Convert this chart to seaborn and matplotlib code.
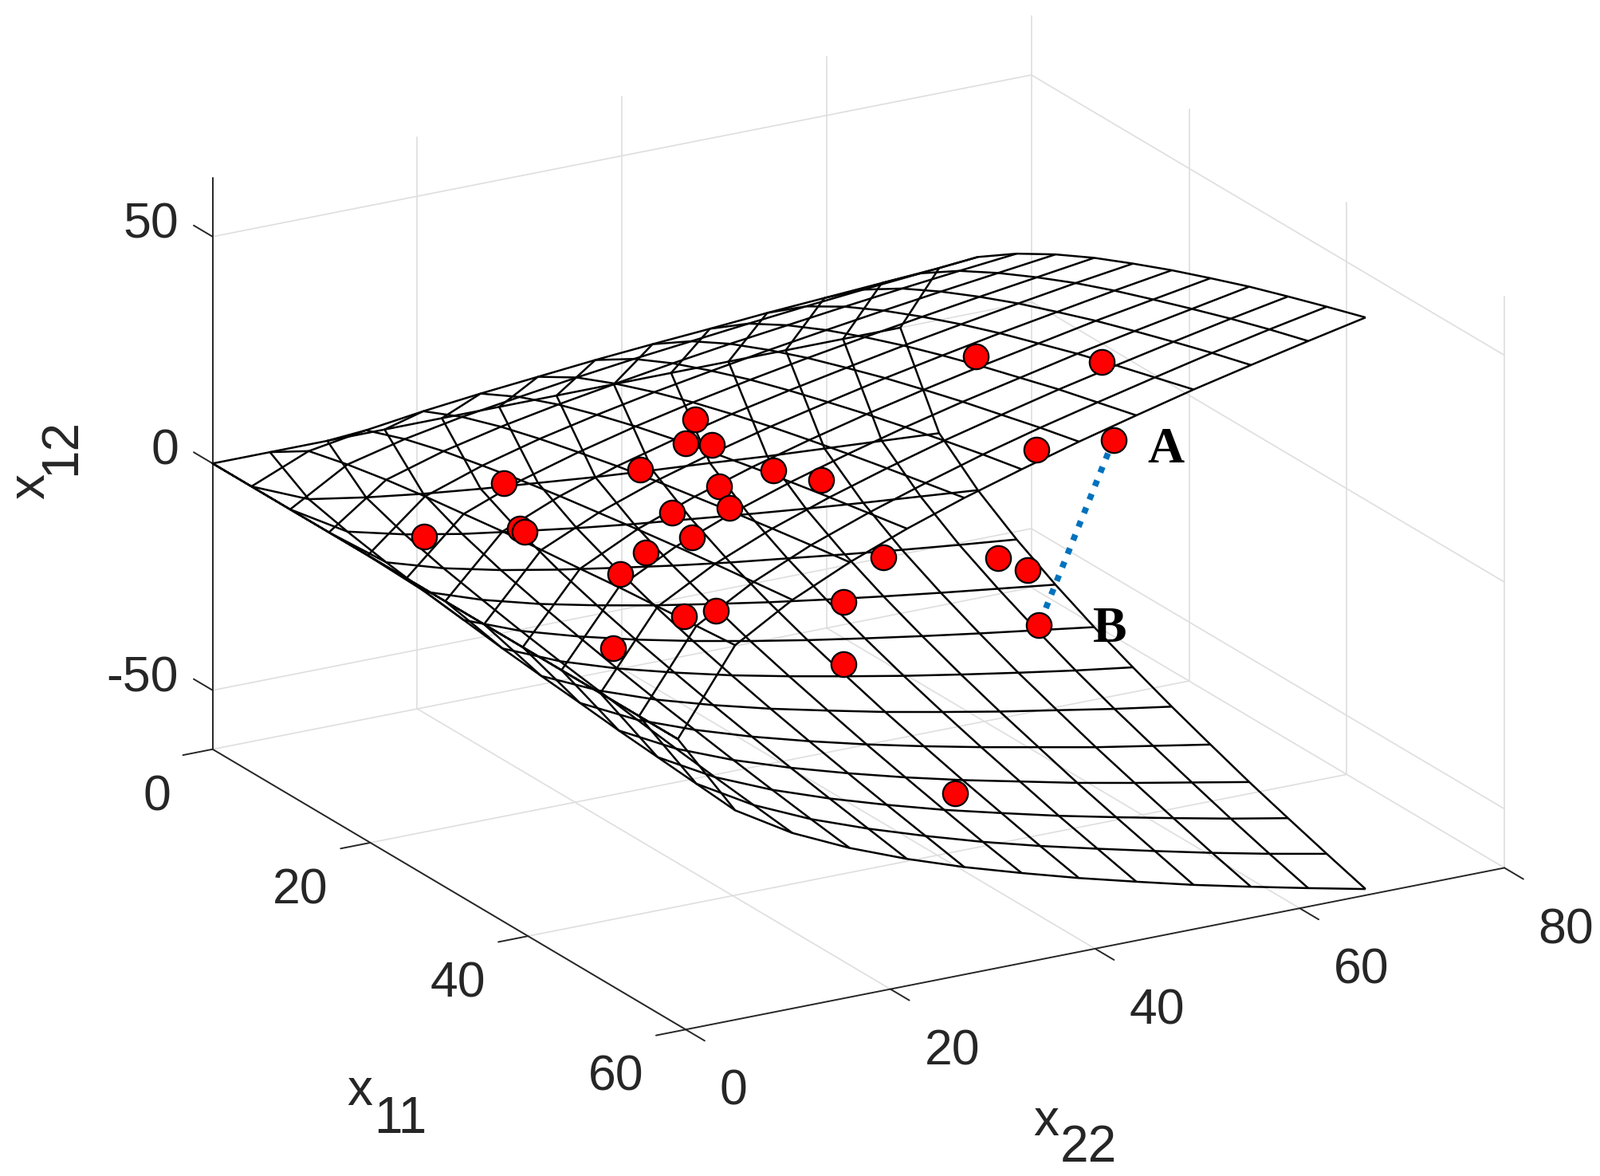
import numpy as np
import seaborn as sns
import matplotlib
matplotlib.use("Agg")
import matplotlib.pyplot as plt
from mpl_toolkits.mplot3d import proj3d

# mesh levels
x11_levels = [0, 4.92, 9.83, 14.75, 19.67, 24.58, 29.5, 34.42, 39.33, 44.25, 49.17, 54.08, 59.0]
x22_levels = [0, 5.6, 11.2, 16.8, 22.4, 28.0, 33.6, 39.2, 44.8, 50.4, 56.0, 61.6, 67.2]

# height of the upper sheet, one row per x11 level above 0, one column per x22 level
# the lower sheet is its mirror image, both meet along x11 = 0
x12_sheet = [
    [0, 5.3, 7.4, 9.1, 10.5, 11.7, 12.9, 13.9, 14.8, 15.8, 16.6, 17.4, 18.2],
    [0, 7.4, 10.5, 12.9, 14.8, 16.6, 18.2, 19.6, 21.0, 22.3, 23.5, 24.6, 25.7],
    [0, 9.1, 12.9, 15.8, 18.2, 20.3, 22.3, 24.1, 25.7, 27.3, 28.8, 30.2, 31.5],
    [0, 10.5, 14.8, 18.2, 21.0, 23.5, 25.7, 27.8, 29.7, 31.5, 33.2, 34.8, 36.4],
    [0, 11.7, 16.6, 20.3, 23.5, 26.3, 28.8, 31.1, 33.2, 35.2, 37.1, 38.9, 40.7],
    [0, 12.9, 18.2, 22.3, 25.7, 28.8, 31.5, 34.0, 36.4, 38.6, 40.7, 42.7, 44.5],
    [0, 13.9, 19.6, 24.1, 27.8, 31.1, 34.0, 36.8, 39.3, 41.7, 43.9, 46.1, 48.1],
    [0, 14.8, 21.0, 25.7, 29.7, 33.2, 36.4, 39.3, 42.0, 44.5, 47.0, 49.2, 51.4],
    [0, 15.8, 22.3, 27.3, 31.5, 35.2, 38.6, 41.7, 44.5, 47.3, 49.8, 52.2, 54.6],
    [0, 16.6, 23.5, 28.8, 33.2, 37.1, 40.7, 43.9, 47.0, 49.8, 52.5, 55.1, 57.5],
    [0, 17.4, 24.6, 30.2, 34.8, 38.9, 42.7, 46.1, 49.2, 52.2, 55.1, 57.8, 60.3],
    [0, 18.2, 25.7, 31.5, 36.4, 40.7, 44.5, 48.1, 51.4, 54.6, 57.5, 60.3, 63.0],
]

# red sample points
point_x11 = [37.5, 48.5, 60.0, 57.5, 28.0, 31.3, 33.3, 32.0, 41.5, 46.5,
             24.0, 40.0, 43.6, 40.0, 44.6, 30.6, 31.5, 24.0, 43.0, 43.4,
             15.6, 15.0, 17.0, 20.0, 20.0, 21.5, 24.2, 26.5, 28.0, 46.5]
point_x22 = [45.7, 49.5, 41.8, 36.2, 25.6, 22.1, 23.1, 17.1, 22.8, 23.6,
             10.0, 18.7, 16.9, 14.1, 12.5, 6.45, 6.2, 2.2, 9.2, 6.4,
             53.5, 65.2, 66.5, 46.2, 33.8, 29.5, 62.1, 18.7, 40.1, 36.7]
point_x12 = [41.9, 50.2, 48.4, 46.1, 27.1, 26.8, 28.1, 24.0, 31.1, 33.8,
             16.0, 27.9, 27.6, 24.0, 24.0, 14.3, 14.7, 7.6, 20.5, 17.4,
             -28.5, -34.4, -35.6, -30.6, -27.0, -24.7, -38.4, -21.8, -33.3, -41.2]

# points A and B joined by the dotted segment
segment_x11 = [60.0, 24.2]
segment_x22 = [41.8, 62.1]
segment_x12 = [48.4, -38.4]

x11_ticks = [0, 20, 40, 60]
x22_ticks = [0, 20, 40, 60, 80]
x12_ticks = [-50, 0, 50]
x11_lim = (0, 60)
x22_lim = (0, 80)
x12_lim = (-63, 63)

AXIS = "#262626"
GRID = "#dedede"
W, H = 2008, 1475


def tick_text(ax, x, y, z, s, **kw):
    """Put a label at a 3D data position as a plain 2D text."""
    px, py, _ = proj3d.proj_transform(x, y, z, ax.get_proj())
    ax.text2D(px, py, s, transform=ax.transData, **kw)


def draw_frame(ax):
    """Grid on the two back walls and the floor, dark axes and ticks in front."""
    lo, hi = x12_lim
    grid = dict(color=GRID, lw=1.2, zorder=1)
    for v in x22_ticks[1:]:
        ax.plot([0, 0], [v, v], [lo, hi], **grid)
    for v in x11_ticks[1:]:
        ax.plot([v, v], [80, 80], [lo, hi], **grid)
    for v in x12_ticks:
        ax.plot([0, 0], [0, 80], [v, v], **grid)
        ax.plot([0, 60], [80, 80], [v, v], **grid)
    for v in x11_ticks[:-1]:
        ax.plot([v, v], [0, 80], [lo, lo], **grid)
    for v in x22_ticks:
        ax.plot([0, 60], [v, v], [lo, lo], **grid)

    line = dict(color=AXIS, lw=1.4, zorder=2)
    ax.plot([0, 60], [0, 0], [lo, lo], **line)
    ax.plot([60, 60], [0, 80], [lo, lo], **line)
    ax.plot([0, 0], [0, 0], [lo, hi], **line)

    text = dict(fontsize=45, color=AXIS, va="center")
    for v in x11_ticks:
        ax.plot([v, v], [0, -2.9], [lo, lo], **line)
        tick_text(ax, v, -4.1, lo - 8.7, str(v), ha="right", **text)
    for v in x22_ticks:
        ax.plot([60, 62.4], [v, v], [lo, lo], **line)
        tick_text(ax, 63, v + 1, lo - 11.1, str(v), ha="left", **text)
    for v in x12_ticks:
        ax.plot([0, -2.4], [0, 0], [v, v], **line)
        tick_text(ax, -4.3, 0, v - 1.8, str(v), ha="right", **text)


def label(x, y, s, **kw):
    plt.figtext(x / W, 1 - y / H, s, ha="center", va="center", **kw)


def main():
    sns.set_theme(style="white")
    plt.rcParams["font.family"] = ["Liberation Sans", "DejaVu Sans"]

    sheet = np.array(x12_sheet)
    upper = np.vstack([sheet[::-1], np.zeros(13)])
    x12 = np.vstack([upper, -sheet])
    rows = np.array(x11_levels)
    x11 = np.concatenate([rows[::-1], rows[1:]])
    X11, X22 = np.meshgrid(x11, x22_levels, indexing="ij")

    fig = plt.figure(figsize=(W / 100, H / 100), dpi=100, facecolor="white")
    size = 1800
    ax = fig.add_axes([152.6 / W, -105 / H, size / W, size / H], projection="3d")
    ax.set_proj_type("ortho")
    ax.view_init(elev=20, azim=-30)
    ax.set_xlim(*x11_lim)
    ax.set_ylim(*x22_lim)
    ax.set_zlim(*x12_lim)
    ax.set_box_aspect((1187, 1186, 763), zoom=0.994)
    ax.set_axis_off()
    ax.computed_zorder = False

    draw_frame(ax)
    ax.plot_wireframe(X11, X22, x12, rcount=25, ccount=13, color="black",
                      linewidth=1.8, zorder=3)
    ax.plot(segment_x11, segment_x22, segment_x12, color="#0072BD", lw=5.5,
            dashes=(1, 1.4), dash_capstyle="butt", zorder=4)
    ax.scatter(point_x11, point_x22, point_x12, s=510, c="red", edgecolors="black",
               linewidths=1.6, depthshade=False, zorder=5)

    label(1462, 565, "A", fontsize=46, family="Liberation Serif", weight="bold", color="black")
    label(1392, 790, "B", fontsize=46, family="Liberation Serif", weight="bold", color="black")

    name = dict(fontsize=46, color=AXIS)
    label(451, 1369, "x", **name)
    label(502, 1404, "11", **name)
    label(1312, 1407, "x", **name)
    label(1365, 1440, "22", **name)
    label(38, 610, "x", rotation=90, **name)
    label(77, 560, "12", rotation=90, **name)

    fig.savefig("out.png", dpi=100, facecolor="white")


if __name__ == "__main__":
    main()
